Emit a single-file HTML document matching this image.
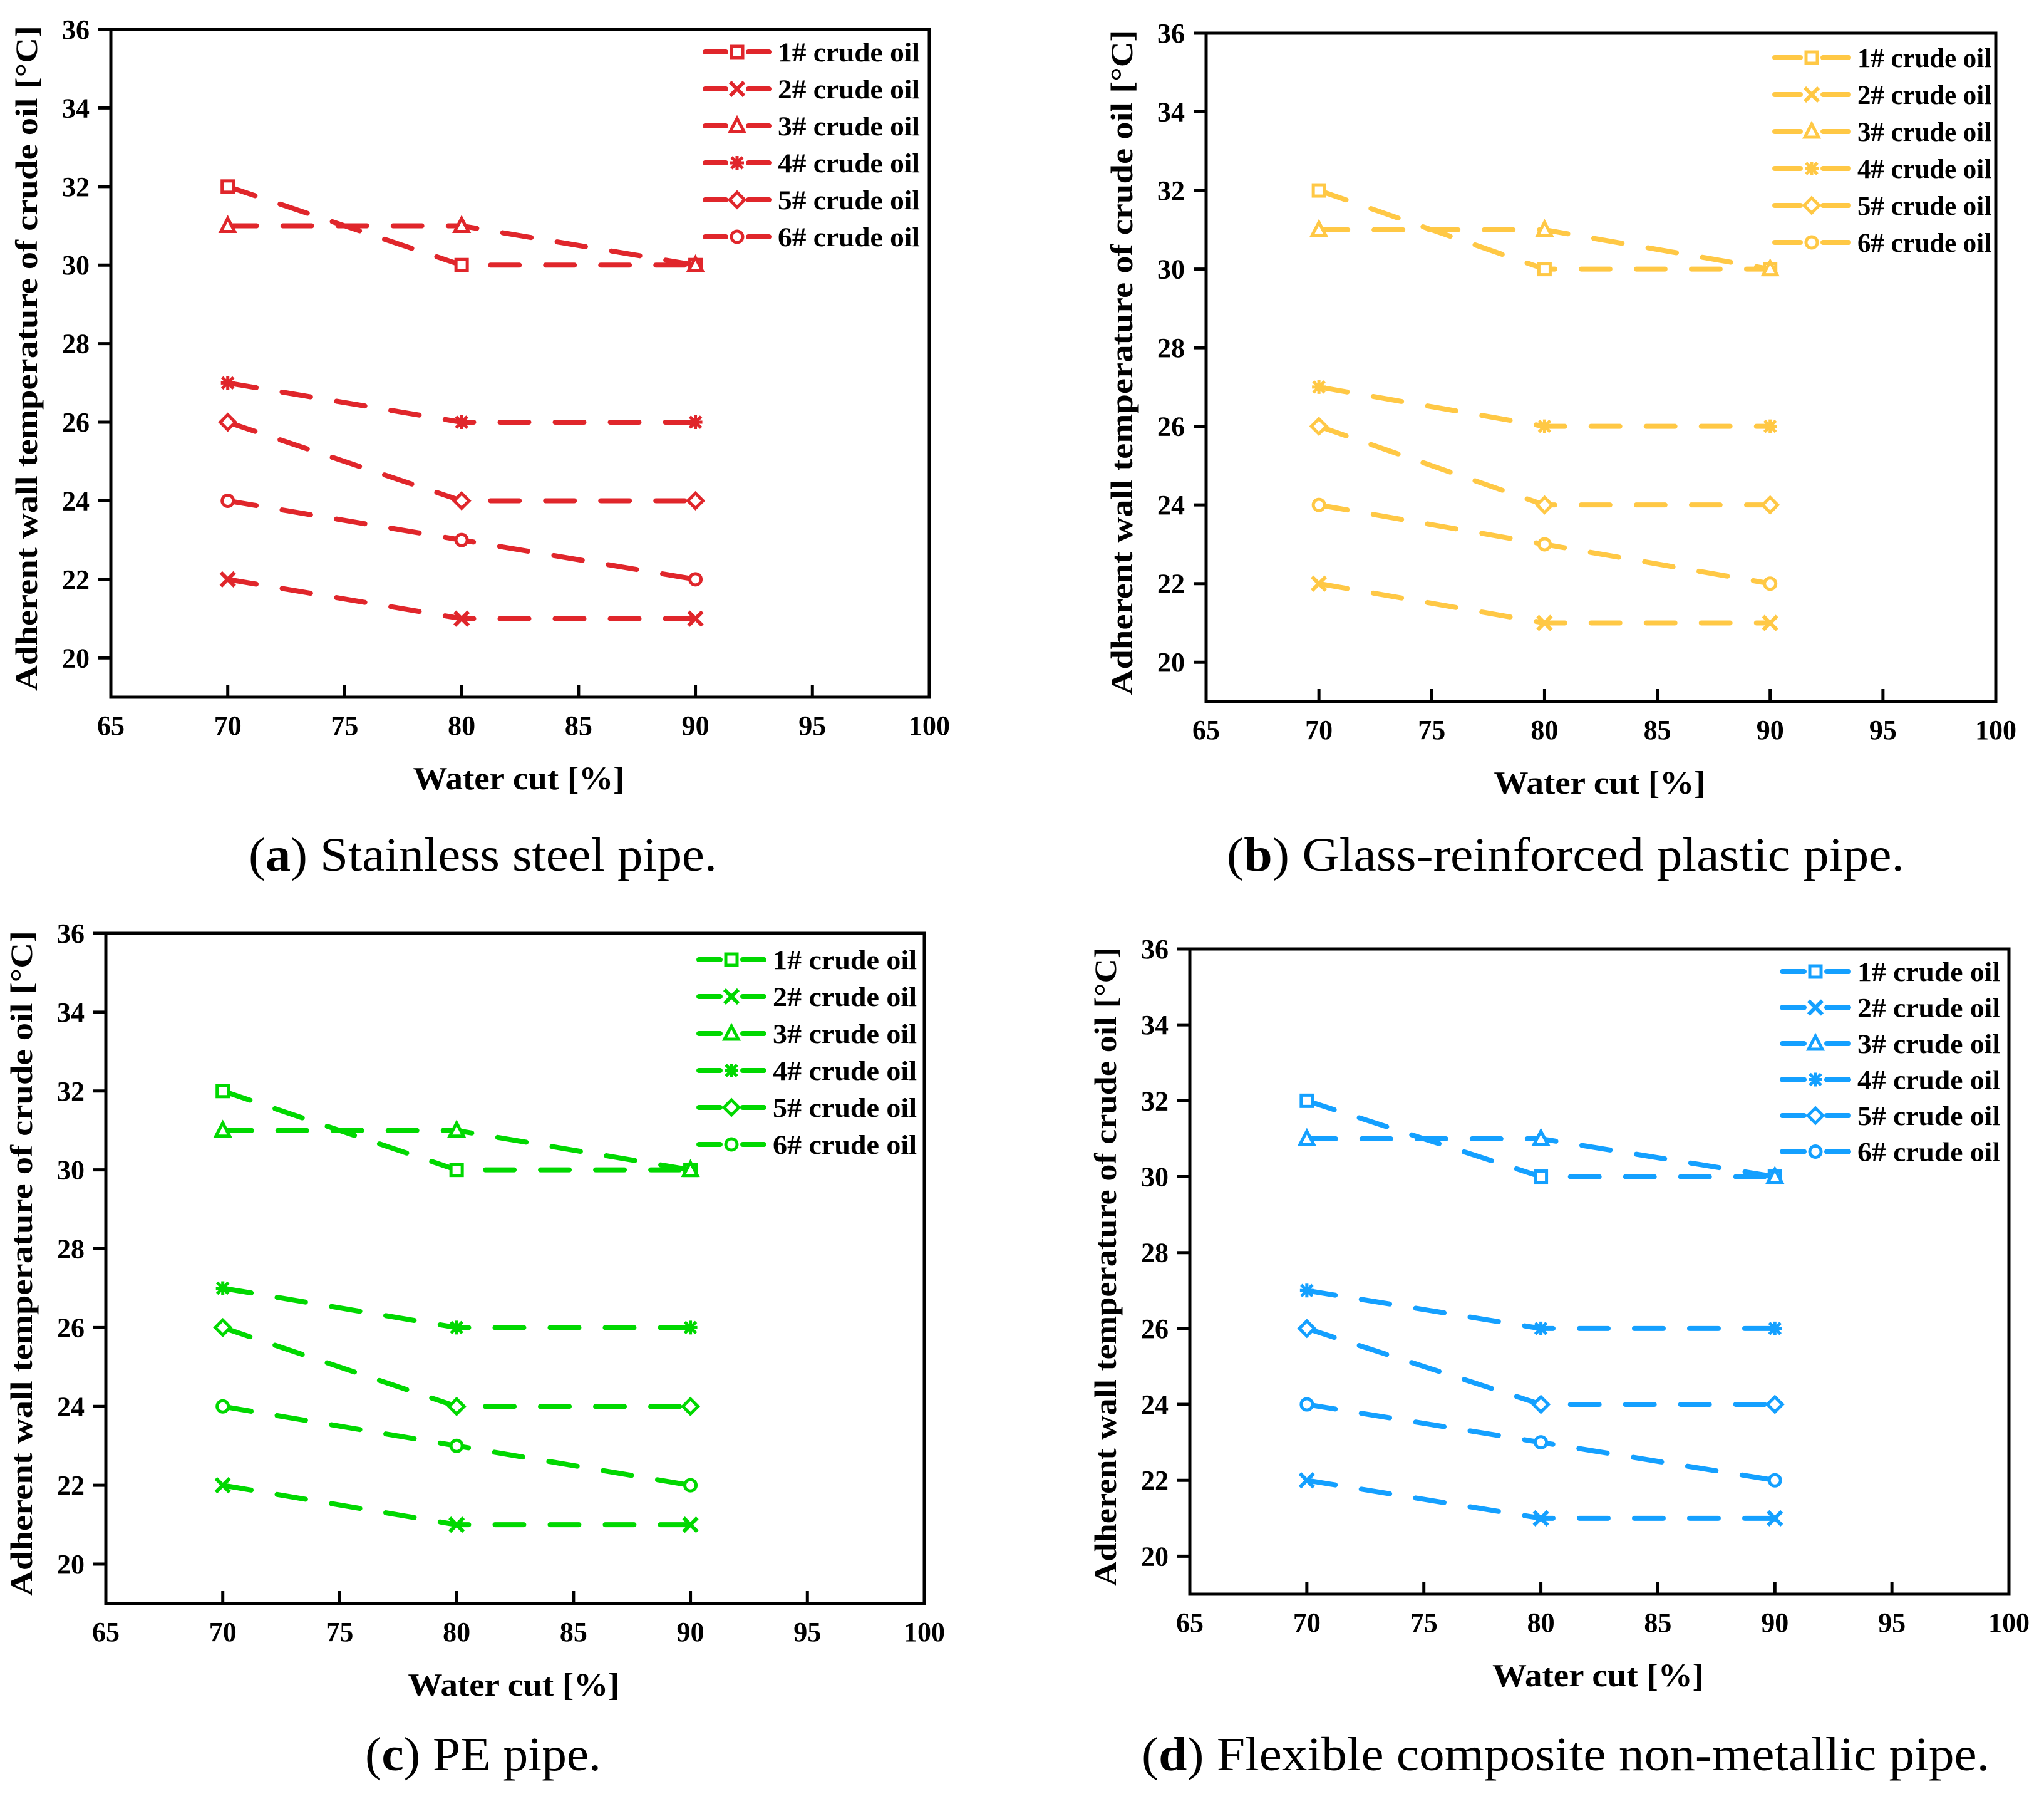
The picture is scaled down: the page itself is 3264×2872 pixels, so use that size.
<!DOCTYPE html>
<html><head><meta charset="utf-8"><style>
html,body{margin:0;padding:0;background:#fff;}
svg{display:block;}
text{font-family:"Liberation Serif",serif;}
</style></head>
<body>
<svg id="fig" width="3264" height="2872" viewBox="0 0 3264 2872" xmlns="http://www.w3.org/2000/svg">
<rect width="3264" height="2872" fill="#fff"/>
</svg>
<script>
const categories = [70, 80, 90];
const series1 = [32, 30, 30];
const series2 = [22, 21, 21];
const series3 = [31, 31, 30];
const series4 = [27, 26, 26];
const series5 = [26, 24, 24];
const series6 = [24, 23, 22];
const seriesNames = ["1# crude oil","2# crude oil","3# crude oil","4# crude oil","5# crude oil","6# crude oil"];
const xTicks = [65, 70, 75, 80, 85, 90, 95, 100];
const yTicks = [20, 22, 24, 26, 28, 30, 32, 34, 36];
const xDomain = [65, 100];
const yDomain = [19, 36];

const NS = "http://www.w3.org/2000/svg";
const svg = document.getElementById("fig");
function mk(tag, attrs, parent){
  const e = document.createElementNS(NS, tag);
  for (const k in attrs) e.setAttribute(k, attrs[k]);
  (parent||svg).appendChild(e);
  return e;
}
const allSeries = [series1, series2, series3, series4, series5, series6];
const shapes = ["square","x","triangle","star","diamond","circle"];

function marker(g, shape, cx, cy, color){
  const s = 9, sw = 5;
  let e;
  if (shape === "square") e = mk("rect",{x:cx-s,y:cy-s,width:2*s,height:2*s,fill:"#fff",stroke:color,"stroke-width":sw},g);
  else if (shape === "x") e = mk("path",{d:`M${cx-s-2} ${cy-s-2}L${cx+s+2} ${cy+s+2}M${cx-s-2} ${cy+s+2}L${cx+s+2} ${cy-s-2}`,stroke:color,"stroke-width":sw+1,fill:"none"},g);
  else if (shape === "triangle") e = mk("path",{d:`M${cx} ${cy-s-3}L${cx+s+2} ${cy+s}L${cx-s-2} ${cy+s}Z`,fill:"#fff",stroke:color,"stroke-width":sw,"stroke-linejoin":"miter"},g);
  else if (shape === "star") e = mk("path",{d:`M${cx-s-2} ${cy}L${cx+s+2} ${cy}M${cx} ${cy-s-2}L${cx} ${cy+s+2}M${cx-s} ${cy-s}L${cx+s} ${cy+s}M${cx-s} ${cy+s}L${cx+s} ${cy-s}`,stroke:color,"stroke-width":sw,fill:"none"},g);
  else if (shape === "diamond") e = mk("path",{d:`M${cx} ${cy-s-3}L${cx+s+3} ${cy}L${cx} ${cy+s+3}L${cx-s-3} ${cy}Z`,fill:"#fff",stroke:color,"stroke-width":sw},g);
  else e = mk("circle",{cx:cx,cy:cy,r:s,fill:"#fff",stroke:color,"stroke-width":sw},g);
  return e;
}

function drawPanel(p){
  const g = mk("g",{});
  
  
  const xs = v => p.L + (v - xDomain[0]) / (xDomain[1]-xDomain[0]) * (p.R - p.L);
  const ys = v => p.B - (v - yDomain[0]) / (yDomain[1]-yDomain[0]) * (p.B - p.T);
  // series
  allSeries.forEach((vals, i) => {
    const sg = mk("g",{},g);
    
    
    const pts = vals.map((v,j)=>xs(categories[j])+","+ys(v)).join(" ");
    const pl = mk("polyline",{points:pts,fill:"none",stroke:p.color,"stroke-width":8,"stroke-dasharray":"46 42","stroke-linecap":"round","stroke-linejoin":"round"},sg);
    
    
    vals.forEach((v,j)=>{
      const m = marker(sg, shapes[i], xs(categories[j]), ys(v), p.color);
      
      
    });
  });
  // frame
  const fr = mk("rect",{x:p.L,y:p.T,width:p.R-p.L,height:p.B-p.T,fill:"none",stroke:"#000","stroke-width":5},g);
  
  
  // x ticks
  xTicks.forEach(t => {
    const x = xs(t);
    mk("line",{x1:x,x2:x,y1:p.B,y2:p.B-20,stroke:"#000","stroke-width":5},g);
    const tx = mk("text",{x:x,y:p.B+60,"text-anchor":"middle","font-size":44,"font-weight":"bold"},g);
    tx.textContent = t;
    
    
  });
  yTicks.forEach(t => {
    const y = ys(t);
    mk("line",{x1:p.L,x2:p.L-20,y1:y,y2:y,stroke:"#000","stroke-width":5},g);
    const tx = mk("text",{x:p.L-34,y:y+15,"text-anchor":"end","font-size":44,"font-weight":"bold"},g);
    tx.textContent = t;
    
    
  });
  const xt = mk("text",{x:(p.L+p.R)/2 - 2,y:p.B+147,"text-anchor":"middle","font-size":52,"font-weight":"bold",textLength:338,lengthAdjust:"spacingAndGlyphs"},g);
  xt.textContent = "Water cut [%]";
  
  
  const ycx = p.L - 118, ycy = (p.T+p.B)/2 - 8;
  const yt = mk("text",{x:ycx,y:ycy,"text-anchor":"middle","font-size":50,"font-weight":"bold",transform:`rotate(-90 ${ycx} ${ycy})`,textLength:p.ytl,lengthAdjust:"spacingAndGlyphs"},g);
  yt.textContent = "Adherent wall temperature of crude oil [°C]";
  
  
  // legend
  seriesNames.forEach((n,i) => {
    const lg = mk("g",{},g);
    
    
    const y = p.legY + i*p.legDy;
    const a = p.legX1, b = p.legX2, c = (a+b)/2;
    mk("line",{x1:a+4,x2:c-18,y1:y,y2:y,stroke:p.color,"stroke-width":8,"stroke-linecap":"round"},lg);
    mk("line",{x1:c+18,x2:b-4,y1:y,y2:y,stroke:p.color,"stroke-width":8,"stroke-linecap":"round"},lg);
    marker(lg, shapes[i], c, y, p.color);
    const t = mk("text",{x:b+10,y:y+15,"font-size":43,"font-weight":"bold",textLength:p.legTL,lengthAdjust:"spacingAndGlyphs"},lg);
    t.textContent = n;
  });
  // caption
  const cap = mk("text",{x:p.capX,y:p.capY,"font-size":76,textLength:p.capW,lengthAdjust:"spacingAndGlyphs"},g);
  
  
  const tb = document.createElementNS(NS,"tspan"); tb.setAttribute("font-weight","bold"); tb.textContent = p.capLetter;
  cap.appendChild(document.createTextNode("("));
  cap.appendChild(tb);
  cap.appendChild(document.createTextNode(") " + p.capText));
}

drawPanel({name:"panel-a-stainless",color:"#E0262B",L:177,R:1484,T:47,B:1113,ytl:1062,
  legX1:1122,legX2:1232,legY:83,legDy:59,legTL:227,capX:397,capY:1390,capW:748,capLetter:"a",capText:"Stainless steel pipe."});
drawPanel({name:"panel-b-grp",color:"#FFC845",L:1926,R:3187,T:53,B:1120,ytl:1062,
  legX1:2830,legX2:2956,legY:92,legDy:59,legTL:214,capX:1959,capY:1390,capW:1082,capLetter:"b",capText:"Glass-reinforced plastic pipe."});
drawPanel({name:"panel-c-pe",color:"#00D800",L:169,R:1476,T:1490,B:2560,ytl:1062,
  legX1:1112,legX2:1224,legY:1532,legDy:59,legTL:230,capX:583,capY:2826,capW:377,capLetter:"c",capText:"PE pipe."});
drawPanel({name:"panel-d-flexible",color:"#14A0FF",L:1900,R:3208,T:1515,B:2545,ytl:1020,
  legX1:2842,legX2:2956,legY:1551,legDy:57.5,legTL:228,capX:1823,capY:2826,capW:1354,capLetter:"d",capText:"Flexible composite non-metallic pipe."});
</script>
</body></html>
